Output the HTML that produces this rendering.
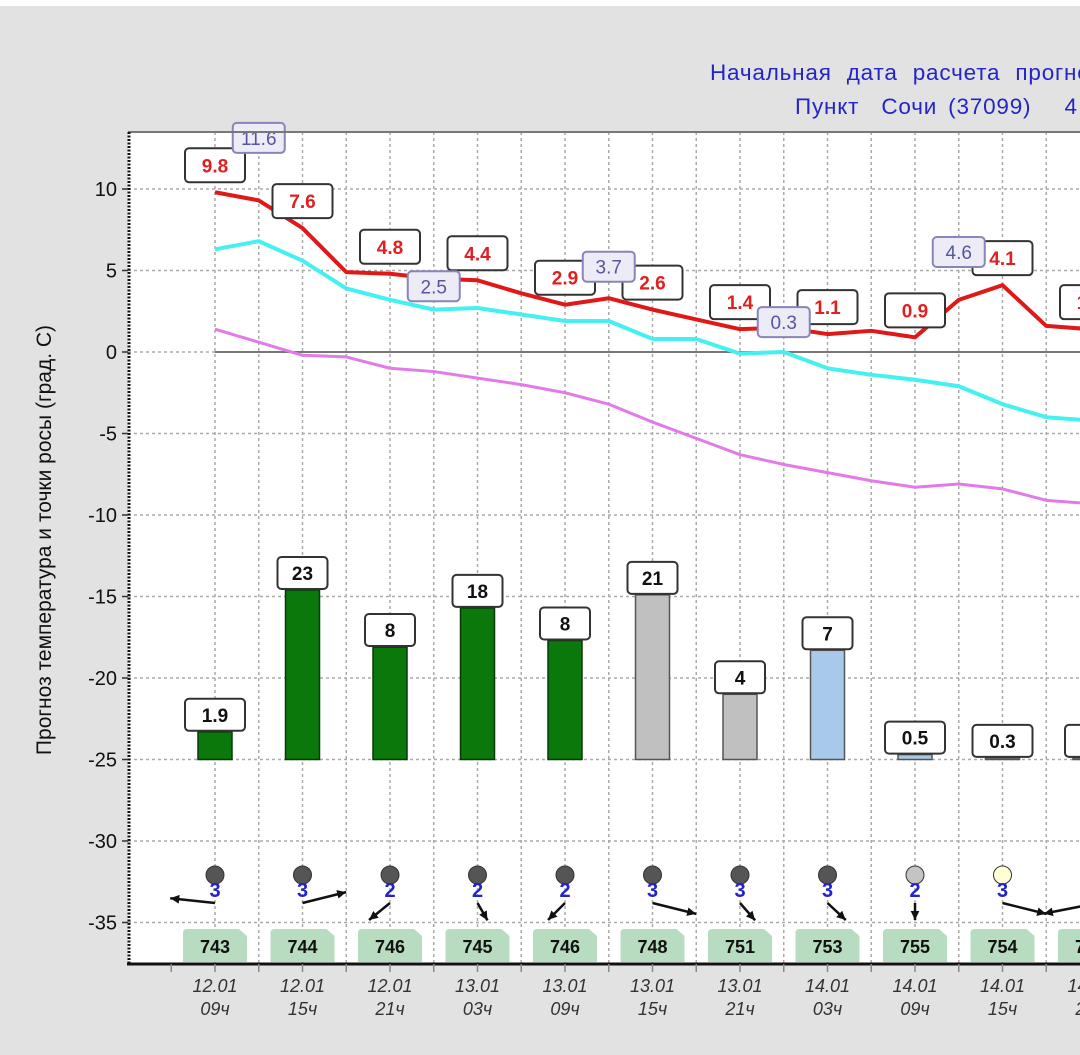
<!DOCTYPE html>
<html><head><meta charset="utf-8"><style>
html,body{margin:0;padding:0;background:#e2e2e2;}
svg{display:block;font-family:"Liberation Sans",sans-serif;}
</style></head><body>
<svg id="chart" width="1080" height="1055" viewBox="0 0 1080 1055">
<rect x="0" y="0" width="1080" height="1055" fill="#e2e2e2"/>
<rect x="0" y="0" width="1080" height="6" fill="#ffffff"/>
<text x="710" y="80" font-size="22.5" letter-spacing="0.8" word-spacing="8" fill="#2424c8">Начальная дата расчета прогноза</text>
<text x="795" y="114" font-size="22.5" letter-spacing="0.8" word-spacing="4" fill="#2424c8" xml:space="preserve">Пункт  Сочи (37099)   4</text>
<rect x="128" y="132" width="980" height="832" fill="#ffffff"/>
<g id="grid"></g>
<g id="bars"></g>
<g id="lines"></g>
<g id="labels"></g>
<g id="weather"></g>
<g id="axes"></g>
<text transform="translate(51,540) rotate(-90)" text-anchor="middle" font-size="21" fill="#111">Прогноз температура и точки росы (град. С)</text>
</svg>
<script>
const NS='http://www.w3.org/2000/svg';
const temps=[9.8,9.3,7.6,4.9,4.8,4.5,4.4,3.6,2.9,3.3,2.6,2.0,1.4,1.5,1.1,1.3,0.9,3.2,4.1,1.6,1.4];
const dewA=[6.3,6.8,5.6,3.9,3.2,2.6,2.7,2.3,1.9,1.9,0.8,0.8,-0.1,0,-1.0,-1.4,-1.7,-2.1,-3.2,-4.0,-4.2];
const dewB=[1.4,0.6,-0.2,-0.3,-1.0,-1.2,-1.6,-2.0,-2.5,-3.2,-4.3,-5.3,-6.3,-6.9,-7.4,-7.9,-8.3,-8.1,-8.4,-9.1,-9.3];
const tempLabels=['9.8','7.6','4.8','4.4','2.9','2.6','1.4','1.1','0.9','4.1','1.4'];
const tempLabelVals=[9.8,7.6,4.8,4.4,2.9,2.6,1.4,1.1,0.9,4.1,1.4];
const maxIdx=[1,5,9,13,17];
const maxVals=[11.6,2.5,3.7,0.3,4.6];
const precipLabels=['1.9','23','8','18','8','21','4','7','0.5','0.3',''];
const precipTops=[-23.3,-14.6,-18.1,-15.7,-17.7,-14.9,-21.0,-18.3,-24.7,-24.9,-24.9];
const precipColors=['#0a780a','#0a780a','#0a780a','#0a780a','#0a780a','#c0c0c0','#c0c0c0','#a9c9ea','#a9c9ea','#c0c0c0','#c0c0c0'];
const cloudColors=['#555','#555','#555','#555','#555','#555','#555','#555','#c4c4c4','#ffffd2','#fff'];
const windSpeed=['3','3','2','2','2','3','3','3','2','3',''];
const windDir=[186,-14,141,60,135,14,49,43,90,14,169];
const windLen=[45,45,27,20,24,45,23,25,17,45,45];
const pressure=['743','744','746','745','746','748','751','753','755','754','757'];
const dates=['12.01','12.01','12.01','13.01','13.01','13.01','13.01','14.01','14.01','14.01','14.01'];
const hours=['09ч','15ч','21ч','03ч','09ч','15ч','21ч','03ч','09ч','15ч','21ч'];
const yTicks=[10,5,0,-5,-10,-15,-20,-25,-30,-35];

const X0=215, STEP=43.75, Y0=352, K=16.3;
const x=i=>X0+i*STEP;
const y=v=>Y0-v*K;
function el(tag,attrs,parent,text){const e=document.createElementNS(NS,tag);for(const k in attrs)e.setAttribute(k,attrs[k]);if(text!==undefined)e.textContent=text;parent.appendChild(e);return e;}
const G=id=>document.getElementById(id);

// grid
const grid=G('grid');
for(let i=0;i<21;i++){const g=el('line',{x1:x(i),x2:x(i),y1:132,y2:964,stroke:'#aaa','stroke-width':1.5,'stroke-dasharray':'3,3'},grid);

}
yTicks.forEach(t=>{const g=el('line',{x1:128,x2:1080,y1:y(t),y2:y(t),stroke:'#aaa','stroke-width':1.5,'stroke-dasharray':'3,3'},grid);

});
const zl=el('line',{x1:215,x2:1080,y1:y(0),y2:y(0),stroke:'#777','stroke-width':2},grid);



// bars
const bars=G('bars');
precipTops.forEach((v,j)=>{const cx=x(j*2);const top=y(v),bot=y(-25);
const r=el('rect',{x:cx-17,y:top,width:34,height:bot-top,fill:precipColors[j],stroke:precipColors[j]==='#0a780a'?'#083808':'#555','stroke-width':1.5},bars);


const bw=30+10*Math.max(precipLabels[j].length,2);
const b=el('rect',{x:cx-bw/2,y:top-33,width:bw,height:32,rx:4,fill:'#fff',stroke:'#333','stroke-width':2},bars);


const t=el('text',{x:cx,y:top-10,'text-anchor':'middle','font-size':19,'font-weight':'bold',fill:'#111'},bars,precipLabels[j]);

});

// lines
const lines=G('lines');
function poly(arr,color,w,name){const p=el('polyline',{points:arr.map((v,i)=>x(i)+','+y(v)).join(' '),fill:'none',stroke:color,'stroke-width':w,'stroke-linejoin':'round'},lines);

}
poly(dewB,'#e27ae8',3,'line-dew-point');
poly(dewA,'#44f0f0',4,'line-dew-upper');
poly(temps,'#e01818',4,'line-temperature');

// labels
const labels=G('labels');
tempLabelVals.forEach((v,j)=>{const cx=x(j*2),cy=y(v)-27;
const b=el('rect',{x:cx-30,y:cy-17,width:60,height:34,rx:4,fill:'#fff',stroke:'#333','stroke-width':2},labels);


const t=el('text',{x:cx,y:cy+7,'text-anchor':'middle','font-size':19,'font-weight':'bold',fill:'#e02020'},labels,tempLabels[j]);

});
maxVals.forEach((v,j)=>{const cx=x(maxIdx[j]),cy=y(v)-25;
const b=el('rect',{x:cx-26,y:cy-15,width:52,height:30,rx:4,fill:'#ecebf6',stroke:'#8686b8','stroke-width':2},labels);


const t=el('text',{x:cx,y:cy+7,'text-anchor':'middle','font-size':19,fill:'#5656a0'},labels,String(v));

});

// weather row
const w=G('weather');
pressure.forEach((p,j)=>{const cx=x(j*2);
const c=el('circle',{cx:cx,cy:875,r:9,fill:cloudColors[j],stroke:'#333','stroke-width':1},w);


const s=el('text',{x:cx,y:897,'text-anchor':'middle','font-size':20,'font-weight':'bold',fill:'#2222d0'},w,windSpeed[j]);


const a=windDir[j]*Math.PI/180,L=windLen[j];
let sx=cx,sy=903;if(j===10){sx=1088;sy=905;}
const ex=sx+L*Math.cos(a),ey=sy+L*Math.sin(a);
const ln=el('line',{x1:sx,y1:sy,x2:ex,y2:ey,stroke:'#111','stroke-width':2.5},w);


const h1=a+Math.PI-0.45,h2=a+Math.PI+0.45;
const hd=el('polygon',{points:`${ex},${ey} ${ex+10*Math.cos(h1)},${ey+10*Math.sin(h1)} ${ex+10*Math.cos(h2)},${ey+10*Math.sin(h2)}`,fill:'#111'},w);


const pb=el('path',{d:`M${cx-32},933 q0,-4 4,-4 h52 l8,7 v26 h-64 z`,fill:'#b8dcbf'},w);


const pt=el('text',{x:cx,y:953,'text-anchor':'middle','font-size':18,'font-weight':'bold',fill:'#111'},w,p);


const d=el('text',{x:cx,y:992,'text-anchor':'middle','font-size':18,'font-style':'italic',fill:'#333'},w,dates[j]);


const h=el('text',{x:cx,y:1015,'text-anchor':'middle','font-size':18,'font-style':'italic',fill:'#333'},w,hours[j]);

});

// axes
const ax=G('axes');
const tb=el('line',{x1:128,x2:1080,y1:132,y2:132,stroke:'#777','stroke-width':2},ax);


const la=el('line',{x1:129,x2:129,y1:132,y2:965,stroke:'#111','stroke-width':3,'stroke-dasharray':'2,1.5'},ax);


const ba=el('line',{x1:127,x2:1080,y1:964,y2:964,stroke:'#111','stroke-width':3},ax);


for(let i=-2;i<21;i++){const xx=x(i);if(xx<130)continue;const tk=el('line',{x1:xx,x2:xx,y1:964,y2:972,stroke:'#888','stroke-width':1.5},ax);

}
yTicks.forEach(t=>{const tk=el('line',{x1:122,x2:128,y1:y(t),y2:y(t),stroke:'#333','stroke-width':1.5},ax);


const lb=el('text',{x:117,y:y(t)+7,'text-anchor':'end','font-size':20,fill:'#111'},ax,String(t));

});
</script>
</body></html>
